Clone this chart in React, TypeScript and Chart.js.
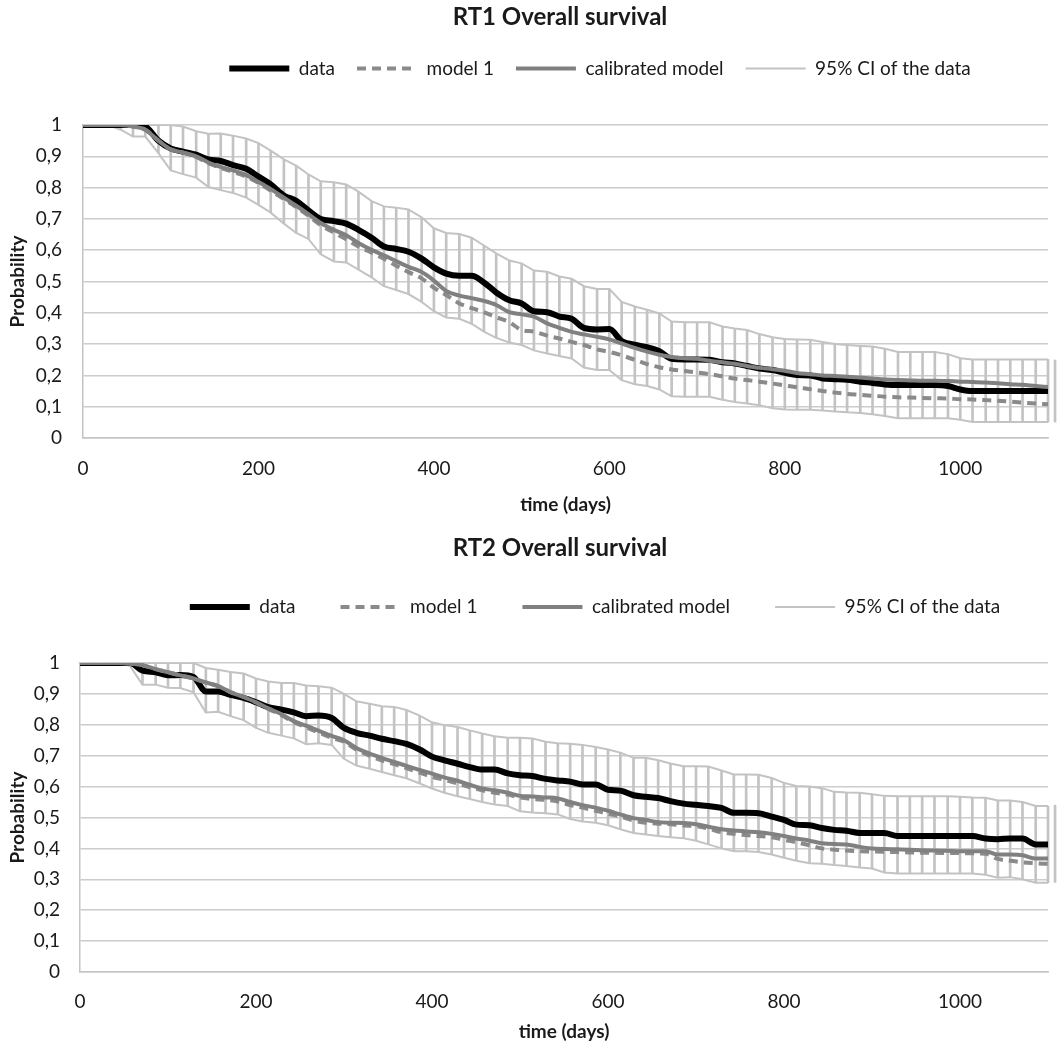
import React, { useEffect, useRef } from "react";
import { Chart, registerables } from "chart.js";

Chart.register(...registerables);

const FONT = "Lato, 'Open Sans', sans-serif";
const TEXT = "#1a1a1a";

// time grid (days) shared by all series
const ciTimes = [
  0, 14, 29, 43, 57, 71, 86, 100, 114, 129,
  143, 157, 171, 186, 200, 214, 229, 243, 257, 271,
  286, 300, 314, 329, 343, 357, 371, 386, 400, 414,
  429, 443, 457, 471, 486, 500, 514, 529, 543, 557,
  571, 586, 600, 614, 629, 643, 657, 671, 686, 700,
  714, 729, 743, 757, 771, 786, 800, 814, 829, 843,
  857, 871, 886, 900, 914, 929, 943, 957, 971, 986,
  1000, 1014, 1029, 1043, 1057, 1071, 1086, 1100,
];

const legendLabels = ["data", "model 1", "calibrated model", "95% CI of the data"];
const yTickLabels = ["0", "0,1", "0,2", "0,3", "0,4", "0,5", "0,6", "0,7", "0,8", "0,9", "1"];
const xTickLabels = ["0", "200", "400", "600", "800", "1000"];
const xTitle = "time (days)";
const yTitle = "Probability";
const endBarTime = 1108;

// ---------- RT1 ----------
const rt1Title = "RT1 Overall survival";
const rt1Data = [
  1, 1, 1, 1, 1, 0.995, 0.95, 0.925, 0.915, 0.905,
  0.89, 0.885, 0.872, 0.86, 0.835, 0.81, 0.775, 0.758, 0.727, 0.7,
  0.693, 0.685, 0.665, 0.64, 0.612, 0.604, 0.595, 0.573, 0.545, 0.525,
  0.518, 0.518, 0.497, 0.465, 0.44, 0.43, 0.405, 0.402, 0.388, 0.381,
  0.352, 0.347, 0.348, 0.31, 0.298, 0.29, 0.277, 0.253, 0.251, 0.251,
  0.25, 0.242, 0.238, 0.23, 0.222, 0.217, 0.208, 0.201, 0.2, 0.19,
  0.188, 0.186, 0.18, 0.176, 0.171, 0.169, 0.169, 0.169, 0.169, 0.166,
  0.155, 0.15, 0.15, 0.15, 0.15, 0.15, 0.15, 0.15,
];
const rt1Model1 = [
  1, 1, 1, 1, 0.995, 0.985, 0.95, 0.922, 0.912, 0.898,
  0.878, 0.863, 0.85, 0.835, 0.815, 0.79, 0.763, 0.738, 0.71, 0.68,
  0.656, 0.635, 0.612, 0.592, 0.573, 0.55, 0.53, 0.51, 0.48, 0.457,
  0.43, 0.415, 0.402, 0.386, 0.37, 0.345, 0.34, 0.327, 0.318, 0.307,
  0.297, 0.283, 0.275, 0.264, 0.25, 0.236, 0.226, 0.219, 0.214, 0.209,
  0.204, 0.197, 0.19, 0.185, 0.18, 0.174, 0.168, 0.162, 0.156, 0.15,
  0.145, 0.141, 0.138, 0.135, 0.132, 0.13, 0.129, 0.128, 0.127, 0.126,
  0.124, 0.123, 0.121, 0.119, 0.116, 0.113, 0.11, 0.108,
];
const rt1Calibrated = [
  1, 1, 1, 1, 0.995, 0.985, 0.95, 0.922, 0.912, 0.9,
  0.88, 0.866, 0.855, 0.84, 0.818, 0.795, 0.768, 0.742, 0.715, 0.687,
  0.665, 0.648, 0.623, 0.601, 0.584, 0.565, 0.547, 0.53, 0.503, 0.47,
  0.455, 0.447, 0.438, 0.425, 0.402, 0.395, 0.388, 0.366, 0.352, 0.339,
  0.331, 0.323, 0.315, 0.302, 0.288, 0.276, 0.266, 0.259, 0.255, 0.253,
  0.247, 0.242, 0.237, 0.23, 0.224, 0.22, 0.215, 0.208, 0.204, 0.2,
  0.198, 0.196, 0.193, 0.19, 0.187, 0.185, 0.184, 0.183, 0.183, 0.182,
  0.18, 0.179, 0.177, 0.175, 0.172, 0.17, 0.166, 0.163,
];
const rt1CiUpper = [
  1, 1, 1, 1, 1, 1, 1, 1, 0.995, 0.98,
  0.972, 0.973, 0.966, 0.957, 0.942, 0.918, 0.89, 0.87, 0.842, 0.82,
  0.817, 0.81, 0.787, 0.757, 0.74, 0.736, 0.73, 0.705, 0.67, 0.655,
  0.652, 0.64, 0.615, 0.59, 0.567, 0.558, 0.535, 0.531, 0.516, 0.509,
  0.485, 0.476, 0.476, 0.435, 0.42, 0.41, 0.398, 0.372, 0.37, 0.37,
  0.37, 0.356, 0.35, 0.345, 0.332, 0.322, 0.316, 0.315, 0.314, 0.307,
  0.3, 0.297, 0.294, 0.292, 0.285, 0.275, 0.275, 0.275, 0.275, 0.268,
  0.255, 0.251, 0.251, 0.251, 0.251, 0.251, 0.251, 0.251,
];
const rt1CiLower = [
  1, 1, 1, 0.985, 0.963, 0.963, 0.91, 0.855, 0.843, 0.832,
  0.802, 0.792, 0.783, 0.768, 0.745, 0.72, 0.685, 0.655, 0.636, 0.587,
  0.564, 0.561, 0.538, 0.513, 0.485, 0.473, 0.46, 0.435, 0.405, 0.385,
  0.381, 0.365, 0.34, 0.32, 0.305, 0.297, 0.28, 0.27, 0.262, 0.254,
  0.225, 0.217, 0.217, 0.185, 0.172, 0.166, 0.155, 0.133, 0.132, 0.132,
  0.132, 0.122, 0.115, 0.11, 0.105, 0.095, 0.091, 0.09, 0.09, 0.088,
  0.085, 0.082, 0.08, 0.076, 0.07, 0.063, 0.063, 0.063, 0.063, 0.063,
  0.058, 0.051, 0.051, 0.051, 0.051, 0.051, 0.051, 0.051,
];
const rt1EndBar = [0.051, 0.249];

// ---------- RT2 ----------
const rt2Title = "RT2 Overall survival";
const rt2Data = [
  1, 1, 1, 1, 1, 0.975, 0.97, 0.96, 0.961, 0.955,
  0.908, 0.908, 0.897, 0.887, 0.873, 0.857, 0.849, 0.84, 0.828, 0.83,
  0.822, 0.79, 0.774, 0.765, 0.755, 0.747, 0.738, 0.72, 0.697, 0.685,
  0.674, 0.663, 0.655, 0.655, 0.643, 0.637, 0.634, 0.625, 0.62, 0.616,
  0.607, 0.607, 0.59, 0.587, 0.572, 0.567, 0.563, 0.553, 0.545, 0.541,
  0.537, 0.531, 0.515, 0.515, 0.514, 0.503, 0.492, 0.477, 0.475, 0.466,
  0.46, 0.457, 0.45, 0.45, 0.45, 0.44, 0.44, 0.44, 0.44, 0.44,
  0.44, 0.44, 0.432, 0.43, 0.432, 0.432, 0.413, 0.413,
];
const rt2Model1 = [
  1, 1, 1, 1, 0.998, 0.993, 0.98, 0.97, 0.96, 0.95,
  0.937, 0.925, 0.906, 0.89, 0.872, 0.851, 0.831, 0.808, 0.792, 0.775,
  0.758, 0.745, 0.72, 0.7, 0.685, 0.673, 0.66, 0.645, 0.632, 0.622,
  0.61, 0.598, 0.588, 0.58, 0.574, 0.565, 0.56, 0.557, 0.552, 0.54,
  0.532, 0.522, 0.512, 0.503, 0.49, 0.483, 0.48, 0.478, 0.474, 0.472,
  0.464, 0.452, 0.447, 0.443, 0.44, 0.436, 0.428, 0.42, 0.41, 0.4,
  0.396, 0.393, 0.391, 0.39, 0.389, 0.388, 0.387, 0.386, 0.386, 0.385,
  0.385, 0.384, 0.383, 0.366, 0.36, 0.355, 0.352, 0.35,
];
const rt2Calibrated = [
  1, 1, 1, 1, 0.998, 0.993, 0.98, 0.97, 0.96, 0.95,
  0.937, 0.925, 0.906, 0.89, 0.873, 0.853, 0.834, 0.812, 0.797, 0.781,
  0.764, 0.75, 0.725, 0.707, 0.693, 0.68, 0.667, 0.654, 0.642, 0.63,
  0.619, 0.606, 0.594, 0.588, 0.58, 0.57, 0.568, 0.565, 0.562, 0.55,
  0.54, 0.532, 0.522, 0.51, 0.498, 0.492, 0.485, 0.483, 0.482, 0.478,
  0.47, 0.462, 0.458, 0.455, 0.452, 0.447, 0.44, 0.432, 0.425, 0.417,
  0.414, 0.413, 0.405, 0.4, 0.398, 0.397, 0.396, 0.394, 0.393, 0.392,
  0.391, 0.391, 0.391, 0.38, 0.38, 0.378, 0.367, 0.367,
];
const rt2CiUpper = [
  1, 1, 1, 1, 1, 1, 1, 1, 1, 1,
  0.984, 0.978, 0.971, 0.966, 0.95, 0.94, 0.935, 0.935, 0.927, 0.925,
  0.92, 0.9, 0.876, 0.868, 0.86, 0.858, 0.848, 0.83, 0.808, 0.799,
  0.793, 0.782, 0.772, 0.763, 0.758, 0.758, 0.756, 0.745, 0.74, 0.739,
  0.735, 0.728, 0.72, 0.71, 0.693, 0.693, 0.685, 0.675, 0.666, 0.666,
  0.665, 0.652, 0.639, 0.639, 0.638, 0.628, 0.612, 0.602, 0.6, 0.595,
  0.583, 0.581, 0.58, 0.575, 0.57, 0.569, 0.569, 0.569, 0.569, 0.569,
  0.567, 0.565, 0.564, 0.555, 0.555, 0.55, 0.537, 0.537,
];
const rt2CiLower = [
  1, 1, 1, 1, 0.99, 0.93, 0.93, 0.92, 0.919, 0.905,
  0.84, 0.842, 0.828, 0.815, 0.79, 0.774, 0.765, 0.756, 0.737, 0.74,
  0.735, 0.69, 0.668, 0.658, 0.647, 0.637, 0.627, 0.61, 0.594, 0.58,
  0.569, 0.56, 0.55, 0.542, 0.537, 0.52, 0.516, 0.514, 0.51, 0.495,
  0.487, 0.483, 0.475, 0.462, 0.45, 0.445, 0.44, 0.436, 0.433, 0.425,
  0.413, 0.4, 0.391, 0.391, 0.388, 0.38, 0.37, 0.36, 0.352, 0.35,
  0.346, 0.343, 0.338, 0.335, 0.322, 0.319, 0.319, 0.319, 0.319, 0.319,
  0.319, 0.319, 0.315, 0.305, 0.307, 0.3, 0.289, 0.289,
];
const rt2EndBar = [0.29, 0.54];

type Layout = {
  yAxisWidth: number;
  yTickPad: number;
  titlePadTop: number;
  titlePadBottom: number;
  titleLineHeight: number;
  legendPad: number;
  spacer: number;
  xAxisHeight: number;
  xTickPad: number;
  xTitlePad: number;
  legendDx: number;
  titleDx: number;
};

const boxShift = {
  id: "boxShift",
  afterLayout(chart: any, _args: any, opts: any) {
    if (chart.legend) {
      chart.legend.left += opts.legendDx;
      chart.legend.right += opts.legendDx;
    }
    if (chart.titleBlock) {
      chart.titleBlock.left += opts.titleDx;
      chart.titleBlock.right += opts.titleDx;
    }
  },
};

function SurvivalChart(props: {
  title: string;
  data: number[];
  model1: number[];
  calibrated: number[];
  ciUpper: number[];
  ciLower: number[];
  endBar: number[];
  layout: Layout;
}) {
  const ref = useRef<HTMLCanvasElement>(null);
  useEffect(() => {
    const { title, data, model1, calibrated, ciUpper, ciLower, endBar, layout } = props;
    const pts = (vals: number[]) => ciTimes.map((t, i) => ({ x: t, y: vals[i] }));
    const bars: any[] = ciTimes.map((t, i) => ({ x: t, y: [ciLower[i], ciUpper[i]] }));
    bars.push({ x: endBarTime, y: [endBar[0], endBar[1]] });

    const CI = "#c3c3c3";
    const chart = new Chart(ref.current as HTMLCanvasElement, {
      type: "line",
      plugins: [boxShift],
      data: {
        datasets: [
          {
            label: legendLabels[0], data: pts(data), borderColor: "#000000", backgroundColor: "#000000",
            borderWidth: 6, pointRadius: 0, pointHoverRadius: 0, cubicInterpolationMode: "monotone", order: 3,
          },
          {
            label: legendLabels[1], data: pts(model1), borderColor: "#8a8a8a", backgroundColor: "#8a8a8a",
            borderWidth: 4, borderDash: [9, 6], pointRadius: 0, pointHoverRadius: 0, cubicInterpolationMode: "monotone", order: 2,
          },
          {
            label: legendLabels[2], data: pts(calibrated), borderColor: "#808080", backgroundColor: "#808080",
            borderWidth: 4, pointRadius: 0, pointHoverRadius: 0, cubicInterpolationMode: "monotone", order: 1,
          },
          {
            label: legendLabels[3], data: pts(ciUpper), borderColor: CI, backgroundColor: CI,
            borderWidth: 2, pointRadius: 0, pointHoverRadius: 0, order: 4,
          },
          {
            label: "ci-lower", data: pts(ciLower), borderColor: CI, backgroundColor: CI,
            borderWidth: 2, pointRadius: 0, pointHoverRadius: 0, order: 5,
          },
          {
            type: "bar", label: "ci-bars", data: bars, backgroundColor: CI, borderWidth: 0,
            barThickness: 2, order: 6, clip: false,
          } as any,
        ],
      } as any,
      options: {
        responsive: false,
        animation: false,
        events: [],
        layout: { padding: { left: 0, right: 14, top: 0, bottom: 0 } },
        plugins: {
          boxShift: { legendDx: layout.legendDx, titleDx: layout.titleDx },
          tooltip: { enabled: false },
          title: {
            display: true, text: title, fullSize: false, color: TEXT,
            font: { family: FONT, size: 24, weight: "bold", lineHeight: layout.titleLineHeight },
            padding: { top: layout.titlePadTop, bottom: layout.titlePadBottom },
          },
          subtitle: {
            display: true, text: "", fullSize: false, weight: 500,
            font: { family: FONT, size: 10, lineHeight: 1 },
            padding: { top: layout.spacer, bottom: 0 },
          },
          legend: {
            display: true, position: "top", fullSize: false,
            labels: {
              usePointStyle: true, pointStyleWidth: 60, padding: layout.legendPad, color: TEXT,
              font: { family: FONT, size: 19 },
              generateLabels: (c: any) =>
                c.data.datasets.slice(0, 4).map((ds: any, i: number) => ({
                  text: ds.label, datasetIndex: i, pointStyle: "line",
                  strokeStyle: ds.borderColor, fillStyle: ds.borderColor,
                  lineWidth: ds.borderWidth, lineDash: ds.borderDash || [], lineCap: "butt",
                  hidden: false, fontColor: TEXT,
                })),
            },
          },
        } as any,
        scales: {
          x: {
            type: "linear", min: 0, max: 1100, offset: false,
            grid: { display: false, drawTicks: false },
            border: { display: true, color: "#c4c4c4", width: 1.5 },
            ticks: {
              stepSize: 200, includeBounds: false, padding: layout.xTickPad, color: TEXT,
              font: { family: FONT, size: 19 }, maxRotation: 0, autoSkip: false,
              callback: (v: any) => xTickLabels[Math.round(Number(v) / 200)],
            },
            title: {
              display: true, text: xTitle, color: TEXT,
              font: { family: FONT, size: 19, weight: "bold" },
              padding: { top: 0, bottom: layout.xTitlePad },
            },
            afterFit: (s: any) => { s.height = layout.xAxisHeight; },
          },
          y: {
            type: "linear", min: 0, max: 1,
            grid: { color: "#cccccc", lineWidth: 1.5, drawTicks: false },
            border: { display: true, color: "#c4c4c4", width: 1.5 },
            ticks: {
              stepSize: 0.1, padding: layout.yTickPad, color: TEXT,
              font: { family: FONT, size: 19 },
              callback: (v: any) => yTickLabels[Math.round(Number(v) * 10)],
            },
            title: {
              display: true, text: yTitle, color: TEXT,
              font: { family: FONT, size: 19, weight: "bold" },
              padding: { top: 6.6, bottom: 0 },
            },
            afterFit: (s: any) => { s.width = layout.yAxisWidth; },
          },
        } as any,
      },
    });
    return () => chart.destroy();
  }, []);
  return <canvas ref={ref} width={1062} height={525} style={{ display: "block", width: 1062, height: 525 }} />;
}

const topLayout: Layout = {
  yAxisWidth: 83, yTickPad: 21, titlePadTop: 5, titlePadBottom: 8, titleLineHeight: 1, legendPad: 22, spacer: 27,
  xAxisHeight: 87, xTickPad: 19.6, xTitlePad: 8.6, legendDx: 34.5, titleDx: -5.5,
};
const bottomLayout: Layout = {
  yAxisWidth: 80, yTickPad: 20, titlePadTop: 18.5, titlePadBottom: 0, titleLineHeight: 0.375, legendPad: 45, spacer: 26.5,
  xAxisHeight: 78, xTickPad: 18.6, xTitlePad: 6.6, legendDx: 31, titleDx: -4,
};

export default function App() {
  return (
    <div style={{ position: "absolute", left: 0, top: 0, width: 1062, height: 1050, background: "#ffffff" }}>
      <SurvivalChart
        title={rt1Title} data={rt1Data} model1={rt1Model1} calibrated={rt1Calibrated}
        ciUpper={rt1CiUpper} ciLower={rt1CiLower} endBar={rt1EndBar} layout={topLayout}
      />
      <SurvivalChart
        title={rt2Title} data={rt2Data} model1={rt2Model1} calibrated={rt2Calibrated}
        ciUpper={rt2CiUpper} ciLower={rt2CiLower} endBar={rt2EndBar} layout={bottomLayout}
      />
    </div>
  );
}
